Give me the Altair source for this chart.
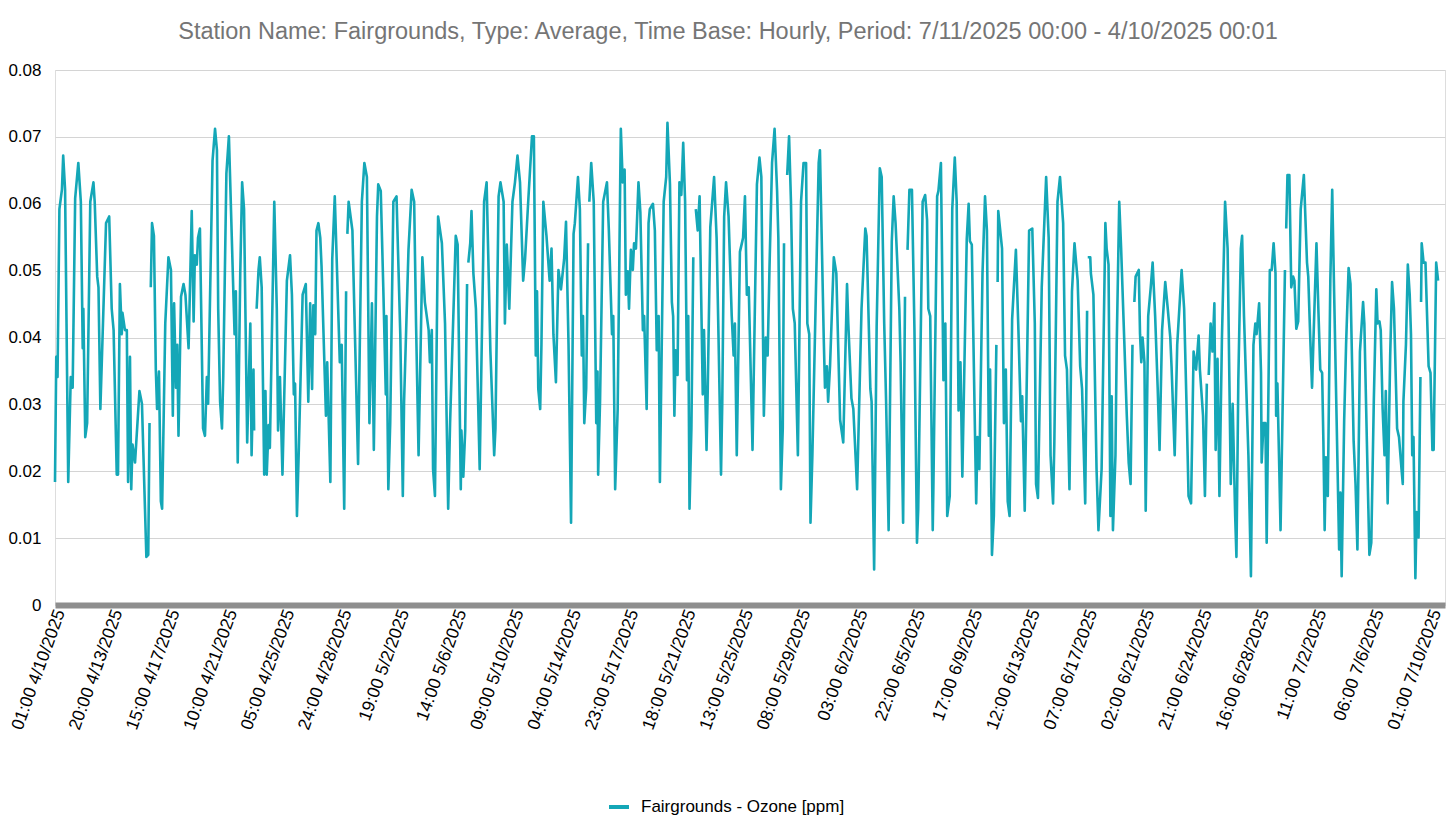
import altair as alt
import pandas as pd

title_text = "Station Name: Fairgrounds, Type: Average, Time Base: Hourly, Period: 7/11/2025 00:00 - 4/10/2025 00:01"
series_name = "Fairgrounds - Ozone [ppm]"

tick_labels = [
    "01:00 4/10/2025", "20:00 4/13/2025", "15:00 4/17/2025", "10:00 4/21/2025",
    "05:00 4/25/2025", "24:00 4/28/2025", "19:00 5/2/2025", "14:00 5/6/2025",
    "09:00 5/10/2025", "04:00 5/14/2025", "23:00 5/17/2025", "18:00 5/21/2025",
    "13:00 5/25/2025", "08:00 5/29/2025", "03:00 6/2/2025", "22:00 6/5/2025",
    "17:00 6/9/2025", "12:00 6/13/2025", "07:00 6/17/2025", "02:00 6/21/2025",
    "21:00 6/24/2025", "16:00 6/28/2025", "11:00 7/2/2025", "06:00 7/6/2025",
    "01:00 7/10/2025",
]
hours_per_tick = 91
total_hours = 2207

# hour index since 01:00 4/10/2025 (None = gap in the record)
hours = [
    0, 2, 4, 7, 11, 13, 16, 21, 25, 28,
    32, 37, 41, 44, 45, 48, 51, 56, 61, 63,
    67, 69, 72, 81, 86, 90, 93, 98, 100, 103,
    106, 107, 111, 114, 116, 119, 121, 123, 127, 134,
    138, 145, 148, 150, None,
    152, 154, 157, 160, 162, 165, 168, 170, 175, 180,
    184, 187, 189, 192, 194, 196, 200, 204, 207, 212,
    217, 220, 222, 225, 227, 230, 235, 238, 241, 243,
    250, 254, 257, 259, 262, 265, 267, 272, 276,
    283, 285, 287, 290, 294, 297, 300, 305, 310, 312, 315, 316, None,
    320, 323, 325, 328, 332, 334, 336, 339, 341, 348,
    352, 354, 357, 361, 368, 373, 376, 379, 381, 384,
    387, 393, 398, 402, 405, 408, 410, 413, 415, 418,
    421, 423, 430, 432, 437, 440, 444, 452, 455, 459,
    462, None,
    464, 466, 472, 476, 481, 487, 491, 495, 499, 503,
    506, 511, 513, 517, 521, 525, 526, 529, 532, 537,
    542,
    548, 552, 554, 561, 566, 570, 573, 577, 583, 587,
    593, 595, 598, 600, 603, 608, 614, 619, 624, 627,
    636, 639, 644, 645, 648, 651, 654, None,
    656, 659, 661, 664, 668, 674, 681, 685, 691, 697,
    699, 704, 707, 712, 714, 717, 721, 726, 730, 734,
    738, 743, 746, 751, 757, 760, 763, 765, 767, 770,
    772, 775, 780, 785, 788, 791, 795, 799, 803, 808,
    811,
    815, 819, 823, 825, 830, 833, 836, 838, 840, 843,
    846, None,
    848, 851, 855, 859, 861, 862, 865, 870, 876, 879,
    884, 886, 889, 893, 897, 898, 901, 904, 906, 909,
    911, 914, 917, 919, 922, 926, 929, 933, 935, 939,
    942, 944, 949, 952, 955, 958, 960, 966, 970, 972,
    976, 979, 981, 983, 985, 988, 991, 994, 997, 1000,
    1003, 1005, 1007, 1010, 1013, None,
    1017, 1020, 1023, 1028, 1030, 1034, 1036, 1040, 1046, 1050,
    1053, 1057, 1059, 1062, 1065, 1069, 1074, 1077, 1079, 1082,
    1087,
    1092, 1095, 1098, 1101, 1107, 1114, 1118, 1121, 1125, 1128,
    1131, 1134, 1138, 1142, 1146, 1148, 1152, 1155, 1157, None,
    1162, 1165, 1168, 1171, 1174, 1179, 1184, 1188, 1192, 1194,
    1197, 1199, 1202, 1212, 1214, 1220, 1222, 1225, 1227, 1230,
    1236, 1240, 1246, 1251, 1257, 1259, 1264, 1267, 1273, 1280,
    1286, 1288, 1294, 1296, 1300, 1304, 1309, 1312, 1316, 1319,
    1323, 1328, 1331, 1334, 1340, 1342, 1346, 1349, None,
    1353, 1356, 1360, 1364, 1368, 1370, 1377, 1381, 1384, 1386,
    1389, 1393, 1394, 1400, 1402, 1406, 1410, 1413, 1416, 1420,
    1424, 1428, 1431, 1434, 1437, 1440, 1447, 1450, 1452, 1455,
    1460, 1462, 1464, 1467, 1472, 1476, 1479, 1482, 1484, 1487,
    1490, 1494, None,
    1496, 1497, 1503, 1506, 1509, 1512, 1515, 1519, 1525, 1529,
    1533, 1535, 1539, 1546, 1551, 1555, 1557, 1560, 1566, 1573,
    1577, 1580, 1584, 1586, 1591, 1595, 1600, 1603, 1606, 1610,
    1614, 1618,
    1623, 1627, 1630, 1635, 1638, None,
    1639, 1643, 1644, 1648, 1653, 1656, 1661, 1667, 1669, 1672,
    1675, 1677, 1679, 1683, 1685, 1689, 1692, 1697, 1701, 1704,
    1707, 1710, None,
    1713, 1715, 1720, 1722, 1724, 1726, 1729, 1731, 1735, 1739,
    1742, 1746, 1750, 1753, 1757, 1762, 1766, 1770, 1772, 1777,
    1781, 1788, 1792, 1796, 1799, 1803, 1807, 1811, 1815, 1817,
    1822, 1825, 1828, None,
    1831, 1834, 1837, 1840, 1842, 1845, 1848, 1852, 1857, 1861,
    1866, 1869, 1873, 1875, 1878, 1882, 1884, 1887, 1892, 1894,
    1898, 1902, 1905, 1907, 1911, 1914, 1915, 1918, 1921, 1923,
    1928, 1931, 1934, 1937, 1938, 1940, 1943, 1945, 1950, 1952, None,
    1954, 1956, 1959, 1960, 1962, 1965, 1967, 1970, 1973, 1977,
    1982, 1987, 1989, 1992, 1995, 1997, 2002, 2005, 2008, 2011,
    2013, 2015, 2017, 2020, 2024, 2027, 2030, 2034, 2038, 2040,
    2042, 2046, 2049, 2053, 2056, 2061, 2064, 2067, 2071, 2076,
    2078, 2082, 2086, 2089, 2093, 2097, 2099, 2102, 2104, 2107,
    2110, 2112, 2115, 2119, 2122, 2125, 2130, 2133, 2137, 2139,
    2140, 2144, 2147, 2150, 2152, 2154, 2156, 2159, 2161, 2164,
    2167, None,
    2168, 2169, 2172, 2175, 2180, 2183, 2186, 2188, 2192, 2195,
]

ozone_ppm = [
    .0184, .0371, .0341, .0592, .0621, .0672, .0621, .0184, .0341, .0325,
    .0608, .0661, .0603, .0384, .0443, .0251, .0272, .0603, .0632, .0603,
    .0491, .0475, .0293, .0571, .0581, .0443, .0411, .0195, .0195, .0480,
    .0405, .0437, .0411, .0411, .0184, .0371, .0173, .0240, .0213, .0320,
    .0301, .0072, .0075, .0272, None,
    .0475, .0571, .0552, .0352, .0293, .0349, .0155, .0144, .0421, .0520,
    .0501, .0283, .0451, .0325, .0389, .0253, .0461, .0480, .0464, .0384,
    .0589, .0424, .0523, .0509, .0549, .0563, .0264, .0253, .0341, .0301,
    .0664, .0712, .0680, .0443, .0304, .0264, .0341, .0645, .0701,
    .0469, .0405, .0469, .0213, .0496, .0632, .0592, .0243, .0421, .0224, .0352, .0261, None,
    .0443, .0501, .0520, .0475, .0195, .0320, .0195, .0269, .0235, .0603,
    .0443, .0261, .0341, .0195, .0485, .0523, .0464, .0315, .0331, .0133,
    .0235, .0464, .0480, .0304, .0451, .0323, .0448, .0405, .0560, .0571,
    .0549, .0507, .0283, .0363, .0184, .0517, .0611, .0363, .0389, .0144,
    .0469, None,
    .0555, .0603, .0560, .0405, .0211, .0603, .0661, .0640, .0272, .0451,
    .0232, .0581, .0629, .0619, .0475, .0315, .0432, .0173, .0272, .0603,
    .0611,
    .0405, .0163, .0304, .0531, .0621, .0603, .0421, .0224, .0520, .0453,
    .0411, .0363, .0411, .0203, .0163, .0581, .0541, .0421, .0144, .0272,
    .0552, .0539, .0173, .0261, .0192, .0261, .0480, None,
    .0512, .0541, .0589, .0496, .0443, .0203, .0603, .0632, .0379, .0224,
    .0264, .0611, .0632, .0603, .0421, .0539, .0443, .0603, .0632, .0672,
    .0632, .0485, .0517, .0603, .0701, .0701, .0373, .0469, .0323, .0293,
    .0389, .0603, .0552, .0485, .0533, .0405, .0333, .0501, .0472, .0517,
    .0573,
    .0389, .0123, .0555, .0571, .0640, .0592, .0373, .0432, .0272, .0323,
    .0541, None,
    .0603, .0661, .0603, .0272, .0349, .0195, .0304, .0603, .0632, .0560,
    .0405, .0432, .0173, .0293, .0632, .0712, .0632, .0651, .0464, .0499,
    .0443, .0531, .0501, .0541, .0533, .0632, .0587, .0411, .0432, .0293,
    .0571, .0592, .0600, .0560, .0381, .0432, .0184, .0603, .0640, .0721,
    .0629, .0453, .0432, .0283, .0381, .0344, .0632, .0613, .0691, .0603,
    .0336, .0432, .0144, .0264, .0520, None,
    .0592, .0560, .0611, .0315, .0411, .0232, .0325, .0565, .0640, .0549,
    .0403, .0195, .0304, .0581, .0632, .0581, .0432, .0373, .0421, .0224,
    .0528,
    .0549, .0611, .0464, .0475, .0232, .0629, .0669, .0640, .0283, .0400,
    .0373, .0507, .0661, .0712, .0619, .0549, .0173, .0264, .0541, None,
    .0643, .0701, .0603, .0443, .0421, .0224, .0603, .0661, .0661, .0421,
    .0405, .0123, .0224, .0661, .0680, .0400, .0325, .0357, .0304, .0357,
    .0520, .0496, .0277, .0243, .0480, .0421, .0309, .0293, .0173, .0443,
    .0563, .0552, .0323, .0304, .0053, .0416, .0653, .0640, .0421, .0304,
    .0112, .0544, .0611, .0571, .0443, .0363, .0123, .0461, None,
    .0531, .0621, .0621, .0411, .0093, .0144, .0603, .0613, .0576, .0443,
    .0432, .0112, .0173, .0611, .0619, .0661, .0336, .0421, .0133, .0163,
    .0592, .0669, .0603, .0291, .0363, .0192, .0547, .0600, .0544, .0539,
    .0261, .0152, .0251, .0203, .0496, .0611, .0560, .0253, .0352, .0075,
    .0133, .0389, None,
    .0483, .0589, .0533, .0272, .0352, .0155, .0133, .0427, .0531, .0411,
    .0275, .0312, .0141, .0560, .0563, .0421, .0181, .0160, .0475, .0640,
    .0549, .0224, .0152, .0243, .0603, .0640, .0571, .0373, .0352, .0173,
    .0469, .0541,
    .0485, .0357, .0323, .0152, .0440, None,
    .0520, .0520, .0496, .0464, .0203, .0112, .0203, .0571, .0533, .0509,
    .0133, .0312, .0112, .0224, .0389, .0603, .0533, .0395, .0283, .0213,
    .0181, .0389, None,
    .0453, .0491, .0501, .0405, .0363, .0400, .0363, .0141, .0432, .0475,
    .0512, .0432, .0325, .0232, .0411, .0483, .0443, .0400, .0357, .0224,
    .0389, .0501, .0443, .0291, .0163, .0152, .0379, .0352, .0403, .0352,
    .0283, .0163, .0331, None,
    .0344, .0421, .0379, .0451, .0232, .0368, .0163, .0400, .0603, .0533,
    .0181, .0301, .0133, .0072, .0336, .0533, .0552, .0432, .0283, .0224,
    .0043, .0389, .0421, .0405, .0451, .0347, .0213, .0272, .0272, .0093,
    .0501, .0501, .0541, .0496, .0283, .0331, .0203, .0112, .0389, .0501, None,
    .0563, .0643, .0643, .0587, .0475, .0491, .0485, .0413, .0424, .0592,
    .0643, .0512, .0491, .0403, .0325, .0389, .0541, .0443, .0352, .0347,
    .0245, .0112, .0221, .0163, .0485, .0621, .0469, .0277, .0083, .0168,
    .0043, .0277, .0389, .0504, .0480, .0245, .0181, .0083, .0379, .0453,
    .0421, .0245, .0075, .0093, .0304, .0472, .0421, .0424, .0411, .0293,
    .0224, .0320, .0152, .0373, .0483, .0443, .0264, .0251, .0203, .0181,
    .0304, .0389, .0509, .0464, .0405, .0224, .0251, .0040, .0139, .0101,
    .0341, None,
    .0453, .0541, .0512, .0512, .0357, .0347, .0232, .0232, .0512, .0485,
]

# split into continuous segments at the gaps
rows = []
segment = 0
for h, v in zip(hours, ozone_ppm):
    if h is None or v is None:
        segment += 1
        continue
    rows.append({"hour": h, "ozone": v, "segment": segment, "series": series_name})
df = pd.DataFrame(rows)

tick_values = [i * hours_per_tick for i in range(len(tick_labels))]
label_array = "[" + ",".join("'" + t + "'" for t in tick_labels) + "]"
label_expr = label_array + "[round(datum.value / " + str(hours_per_tick) + ")]"

teal = "#14a7b7"
FONT = "Liberation Sans"

chart = alt.Chart(df).mark_line(strokeWidth=2.6, strokeJoin="round").encode(
    x=alt.X(
        "hour:Q",
        scale=alt.Scale(domain=[0, total_hours - 1], nice=False, zero=False),
        axis=alt.Axis(
            values=tick_values,
            labelExpr=label_expr,
            labelAngle=290,
            labelAlign="right",
            labelBaseline="middle",
            labelFontSize=17.5,
            labelColor="#000000",
            labelPadding=5,
            labelOffset=5,
            labelFont=FONT,
            labelOverlap=False,
            labelLimit=0,
            ticks=False,
            grid=False,
            domain=True,
            domainColor="#8e8e8e",
            domainWidth=6,
            title=None,
        ),
    ),
    y=alt.Y(
        "ozone:Q",
        scale=alt.Scale(domain=[0, 0.08], nice=False),
        axis=alt.Axis(
            values=[0, 0.01, 0.02, 0.03, 0.04, 0.05, 0.06, 0.07, 0.08],
            format=".2~f",
            labelFontSize=17,
            labelColor="#000000",
            labelFont=FONT,
            labelPadding=14,
            ticks=False,
            domain=False,
            grid=True,
            gridColor="#d4d4d4",
            gridWidth=1,
            title=None,
        ),
    ),
    detail="segment:N",
    color=alt.Color(
        "series:N",
        scale=alt.Scale(domain=[series_name], range=[teal]),
        legend=alt.Legend(
            title=None,
            orient="none",
            legendX=552,
            legendY=725,
            symbolType="stroke",
            symbolSize=400,
            symbolStrokeWidth=4,
            labelFontSize=17,
            labelFont=FONT,
            labelColor="#000000",
            labelLimit=0,
            labelOffset=10,
            padding=0,
        ),
    ),
).properties(
    width=1390,
    height=535,
    title=alt.TitleParams(
        text=title_text,
        fontSize=23.5,
        font=FONT,
        fontWeight="normal",
        color="#757575",
        anchor="middle",
        dx=-22,
        offset=18,
    ),
    autosize=alt.AutoSizeParams(type="none"),
    padding={"left": 47, "top": 62, "right": 3, "bottom": 222},
).configure_view(stroke=None).configure(font=FONT)

chart.save("out.html", embed_options={"renderer": "svg", "actions": False})
